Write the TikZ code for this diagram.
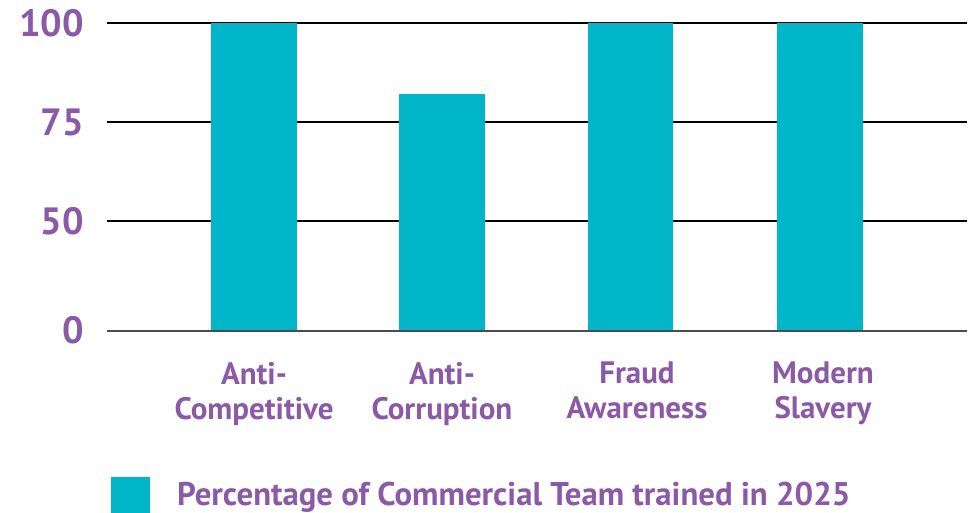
\documentclass[tikz,border=0pt]{standalone}
\usepackage{fontspec}
\setmainfont{PT Sans}
\usetikzlibrary{positioning}

\definecolor{barcyan}{HTML}{00B6C8}
\definecolor{labpurple}{HTML}{8B5AA6}

\tikzset{
    gridline/.style={draw=black, line width=1.2pt},
    baseline/.style={draw=black!70, line width=2pt},
    bar/.style={fill=barcyan, draw=none},
    ylab/.style={anchor=east, text=labpurple, font=\fontsize{38}{38}\selectfont\bfseries, inner sep=0pt},
    catlab/.style={anchor=north, align=center, text=labpurple, font=\fontsize{31}{35}\selectfont\bfseries, inner sep=0pt},
    leglab/.style={anchor=base west, text=labpurple, font=\fontsize{32.8}{32.8}\selectfont\bfseries, inner sep=0pt}
}

\begin{document}
\begin{tikzpicture}[x=1pt,y=-1pt]
    \useasboundingbox (0,0) rectangle (975,513);

    % grid
    \coordinate (g100l) at (107,23);  \coordinate (g100r) at (967,23);
    \coordinate (g75l) at (107,122);  \coordinate (g75r) at (967,122);
    \coordinate (g50l) at (107,221);  \coordinate (g50r) at (967,221);
    \coordinate (g0l) at (107,331);   \coordinate (g0r) at (967,331);
    \draw[gridline] (g100l) -- (g100r);
    \draw[gridline] (g75l) -- (g75r);
    \draw[gridline] (g50l) -- (g50r);

    % bars
    \foreach \xa/\xb/\top in {211/297/23, 399/485/94, 588/673/23, 777/863/23}
        \path[bar] (\xa,\top) rectangle (\xb,331);

    \draw[baseline] (g0l) -- (g0r);

    % y labels
    \node[ylab] (y100) at (84,23) {100};
    \node[ylab] (y75) at (84,122) {75};
    \node[ylab] (y50) at (84,221) {50};
    \node[ylab] (y0) at (84,330) {0};

    % categories
    \node[catlab] (antcomp) at (254,362) {Anti-\\Competitive};
    \node[catlab] (antcorr) at (442,362) {Anti-\\Corruption};
    \node[catlab] (fraud) at (637,362) {Fraud\\Awareness};
    \node[catlab] (slavery) at (823,362) {Modern\\Slavery};

    % legend
    \path[bar] (111,477) rectangle (150,513);
    \node[leglab] (legend) at (177,505) {Percentage of Commercial Team trained in 2025};
\end{tikzpicture}
\end{document}
